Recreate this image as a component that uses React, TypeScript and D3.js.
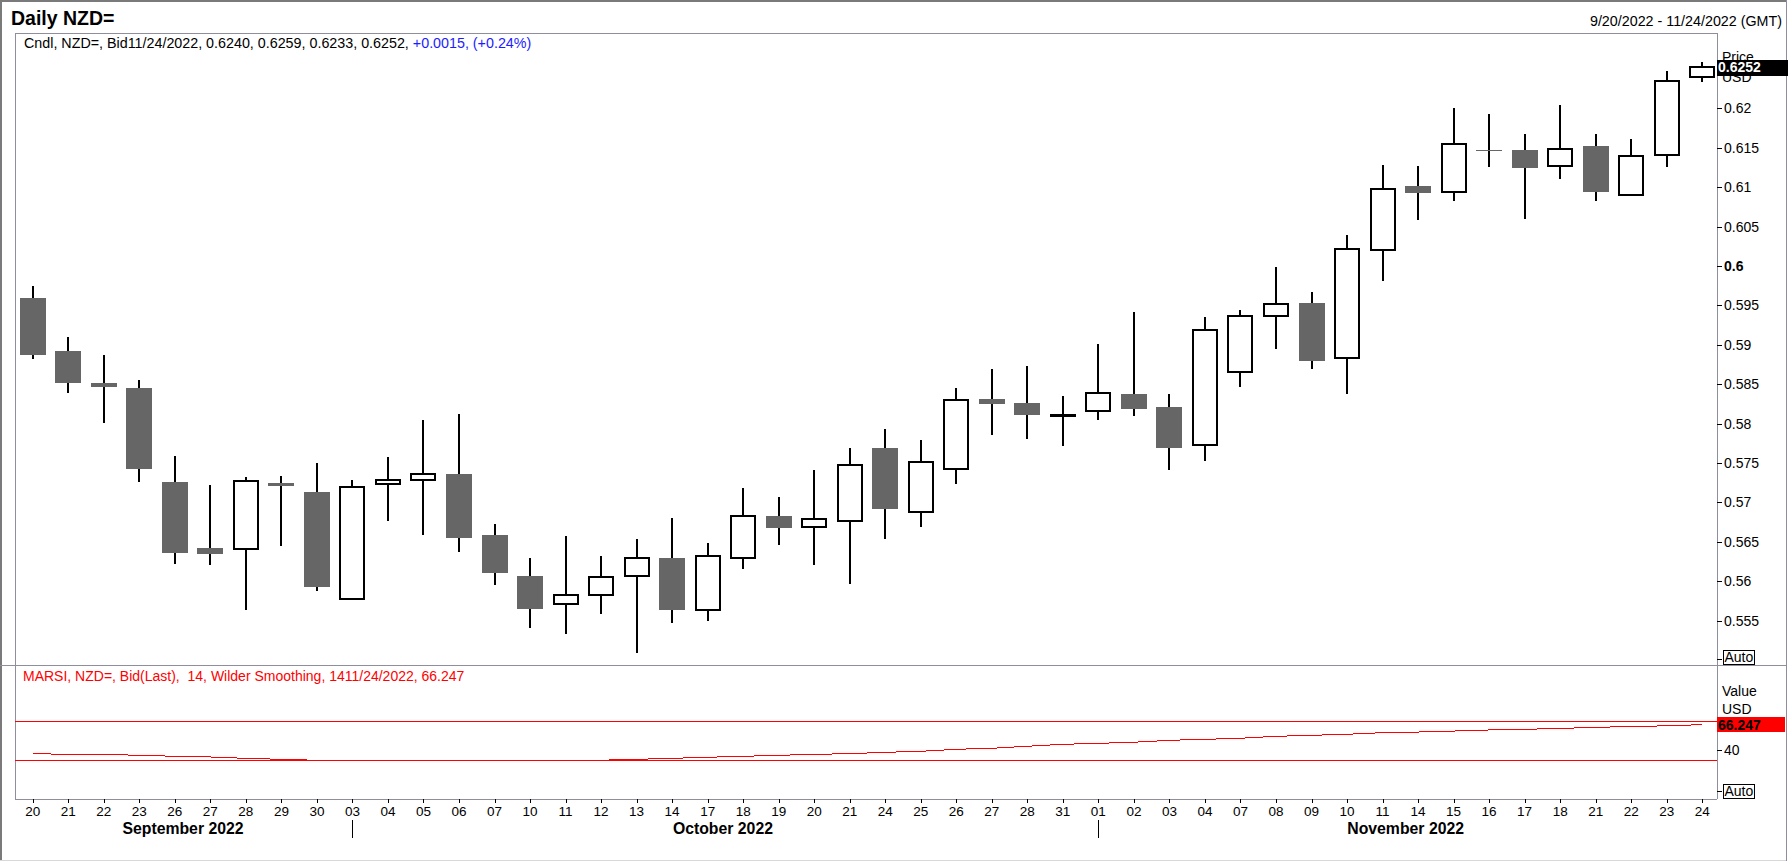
import React from "react";
import * as d3 from "d3";

// ---- data ----
const dates: string[] = [
  "2022-09-20","2022-09-21","2022-09-22","2022-09-23","2022-09-26","2022-09-27","2022-09-28","2022-09-29","2022-09-30",
  "2022-10-03","2022-10-04","2022-10-05","2022-10-06","2022-10-07","2022-10-10","2022-10-11","2022-10-12","2022-10-13",
  "2022-10-14","2022-10-17","2022-10-18","2022-10-19","2022-10-20","2022-10-21","2022-10-24","2022-10-25","2022-10-26",
  "2022-10-27","2022-10-28","2022-10-31",
  "2022-11-01","2022-11-02","2022-11-03","2022-11-04","2022-11-07","2022-11-08","2022-11-09","2022-11-10","2022-11-11",
  "2022-11-14","2022-11-15","2022-11-16","2022-11-17","2022-11-18","2022-11-21","2022-11-22","2022-11-23","2022-11-24",
];

const openV: number[] = [
  0.5959, 0.5892, 0.5851, 0.5845, 0.5726, 0.5642, 0.5641, 0.5725, 0.5713,
  0.5577, 0.5723, 0.5729, 0.5736, 0.5659, 0.5606, 0.5571, 0.5582, 0.5606,
  0.5630, 0.5564, 0.5630, 0.5683, 0.5669, 0.5677, 0.5769, 0.5688, 0.5742,
  0.5831, 0.5826, 0.5810,
  0.5816, 0.5838, 0.5821, 0.5773, 0.5866, 0.5937, 0.5953, 0.5883, 0.6020,
  0.6102, 0.6094, 0.6147, 0.6147, 0.6127, 0.6152, 0.6090, 0.6141, 0.6240,
];
const highV: number[] = [
  0.5975, 0.5910, 0.5887, 0.5855, 0.5759, 0.5722, 0.5732, 0.5734, 0.5750,
  0.5729, 0.5757, 0.5805, 0.5812, 0.5673, 0.5629, 0.5657, 0.5632, 0.5654,
  0.5680, 0.5648, 0.5718, 0.5707, 0.5741, 0.5769, 0.5793, 0.5779, 0.5845,
  0.5869, 0.5873, 0.5835,
  0.5901, 0.5941, 0.5837, 0.5935, 0.5944, 0.5999, 0.5967, 0.6039, 0.6128,
  0.6127, 0.6201, 0.6193, 0.6167, 0.6204, 0.6168, 0.6161, 0.6248, 0.6259,
];
const lowV: number[] = [
  0.5882, 0.5839, 0.5801, 0.5726, 0.5622, 0.5621, 0.5563, 0.5645, 0.5587,
  0.5577, 0.5677, 0.5658, 0.5637, 0.5595, 0.5541, 0.5533, 0.5558, 0.5509,
  0.5547, 0.5549, 0.5616, 0.5646, 0.5620, 0.5596, 0.5654, 0.5669, 0.5723,
  0.5785, 0.5780, 0.5772,
  0.5805, 0.5810, 0.5741, 0.5753, 0.5846, 0.5895, 0.5869, 0.5837, 0.5981,
  0.6059, 0.6082, 0.6126, 0.6060, 0.6111, 0.6083, 0.6090, 0.6126, 0.6233,
];
const closeV: number[] = [
  0.5887, 0.5851, 0.5846, 0.5743, 0.5636, 0.5634, 0.5727, 0.5721, 0.5593,
  0.5720, 0.5729, 0.5736, 0.5655, 0.5610, 0.5565, 0.5582, 0.5605, 0.5630,
  0.5563, 0.5632, 0.5683, 0.5668, 0.5679, 0.5747, 0.5692, 0.5751, 0.5830,
  0.5825, 0.5811, 0.5811,
  0.5839, 0.5818, 0.5769, 0.5919, 0.5937, 0.5952, 0.5880, 0.6022, 0.6098,
  0.6093, 0.6155, 0.6146, 0.6125, 0.6149, 0.6094, 0.6140, 0.6235, 0.6252,
];

const rsiV: number[] = [
  36.5, 35.8, 35.8, 34.8, 33.8, 33.1, 31.7, 30.7, 29.7,
  29.5, 29.4, 29.3, 29.3, 29.4, 29.5, 29.6, 29.8, 30.7,
  31.7, 32.8, 33.8, 34.8, 35.8, 36.5, 37.9, 38.9, 41.0,
  42.0, 44.1, 46.1,
  47.1, 48.2, 50.2, 51.2, 52.3, 54.3, 55.3, 56.4, 58.0,
  58.7, 59.7, 60.8, 61.5, 62.3, 63.6, 64.2, 65.1, 66.247,
];

const priceTicks: number[] = [0.555, 0.56, 0.565, 0.57, 0.575, 0.58, 0.585, 0.59, 0.595, 0.6, 0.605, 0.61, 0.615, 0.62];
const rsiTicks: number[] = [40];
const rsiLevels: number[] = [70, 30];
const monthLabels: string[] = ["September 2022", "October 2022", "November 2022"];
const monthLabelAt: number[] = [4.23, 19.43, 38.65];
const monthStarts: string[] = ["2022-10-03", "2022-11-01"];

const lastPrice = "0.6252";
const lastRsi = "66.247";
const headerBlack = "Cndl, NZD=, Bid11/24/2022, 0.6240, 0.6259, 0.6233, 0.6252, ";
const headerBlue = "+0.0015, (+0.24%)";
const rsiHeader = "MARSI, NZD=, Bid(Last),  14, Wilder Smoothing, 1411/24/2022, 66.247";

const FONT = "'Liberation Sans', Arial, Helvetica, sans-serif";
const FRAME = "#8e8e9c";

export default function App() {
  const W = 1788, H = 862;
  const plotL = 15, plotR = 1717, priceTop = 33, priceBottom = 665, rsiBottom = 799;

  const x = d3.scaleBand<string>().domain(dates).range([15, 1720]).padding(0);
  const bw = x.bandwidth();
  const cx = (d: string) => (x(d) as number) + bw / 2;
  const xIdx = d3.scaleLinear().domain([0, dates.length - 1]).range([cx(dates[0]), cx(dates[dates.length - 1])]);

  const y = d3.scaleLinear().domain([0.55, 0.625]).range([660, 69]);
  const yr = d3.scaleLinear().domain([30, 70]).range([760, 721]);

  const rsiLine = d3.line<number>()
    .x((_, i) => cx(dates[i]))
    .y((v) => yr(v));

  const candles = dates.map((d, i) => {
    const o = openV[i], h = highV[i], l = lowV[i], c = closeV[i];
    const up = c >= o;
    const top = y(Math.max(o, c));
    const bot = y(Math.min(o, c));
    const bh = Math.max(bot - top, 1);
    const xc = Math.round(cx(d));
    return (
      <g key={d}>
        <line x1={xc} x2={xc} y1={y(h)} y2={y(l)} stroke="#000" strokeWidth={2} />
        {up ? (
          <rect x={xc - 12} y={top} width={24} height={bh} fill="#fff" stroke="#000" strokeWidth={2} />
        ) : (
          <rect x={xc - 13} y={top} width={26} height={bh} fill="#666666" />
        )}
      </g>
    );
  });

  return (
    <svg width={W} height={H} style={{ position: "absolute", left: 0, top: 0, background: "#fff" }} fontFamily={FONT}>
      <rect x={0} y={0} width={W} height={H} fill="#fff" />
      {/* outer border */}
      <line x1={0} x2={1787} y1={1} y2={1} stroke="#7a7a7a" strokeWidth={2} />
      <line x1={1} x2={1} y1={0} y2={861} stroke="#7a7a7a" strokeWidth={2} />
      <line x1={0} x2={1787} y1={860.5} y2={860.5} stroke="#d8d8d8" strokeWidth={1} />
      <line x1={1786.5} x2={1786.5} y1={0} y2={861} stroke={FRAME} strokeWidth={1} />

      {/* titles */}
      <text x={11} y={25} fontSize={19.5} fontWeight="bold" fill="#000">Daily NZD=</text>
      <text x={1782} y={26} fontSize={14.3} textAnchor="end" fill="#000">9/20/2022 - 11/24/2022 (GMT)</text>

      {/* frames */}
      <g shapeRendering="crispEdges">
        <line x1={plotL} x2={plotR} y1={priceTop + 0.5} y2={priceTop + 0.5} stroke={FRAME} />
        <line x1={plotL + 0.5} x2={plotL + 0.5} y1={priceTop} y2={rsiBottom} stroke={FRAME} />
        <line x1={plotR + 0.5} x2={plotR + 0.5} y1={priceTop} y2={rsiBottom} stroke={FRAME} />
        <line x1={0} x2={1787} y1={priceBottom + 0.5} y2={priceBottom + 0.5} stroke={FRAME} />
        <line x1={plotL} x2={plotR} y1={rsiBottom + 0.5} y2={rsiBottom + 0.5} stroke={FRAME} />
      </g>

      {/* header */}
      <text x={24} y={48} fontSize={14.3}>
        <tspan fill="#000">{headerBlack}</tspan>
        <tspan fill="#1c1cff">{headerBlue}</tspan>
      </text>

      {/* candles */}
      <g shapeRendering="crispEdges">{candles}</g>

      {/* price axis */}
      <g>
        {priceTicks.map((t) => (
          <g key={t}>
            <line x1={plotR} x2={plotR + 5} y1={Math.round(y(t)) + 0.5} y2={Math.round(y(t)) + 0.5} stroke="#000" shapeRendering="crispEdges" />
            <text x={plotR + 7} y={y(t)} dy="0.36em" fontSize={14} fontWeight={t === 0.6 ? "bold" : "normal"}>{String(t)}</text>
          </g>
        ))}
        <text x={1722} y={62} fontSize={14}>Price</text>
        <text x={1722} y={82} fontSize={14}>USD</text>
        <rect x={plotR} y={60} width={71} height={16} fill="#000" />
        <text x={plotR + 1} y={y(+lastPrice)} dy="0.36em" fontSize={14} fontWeight="bold" fill="#fff">{lastPrice}</text>
        <line x1={plotR} x2={plotR + 5} y1={659.5} y2={659.5} stroke="#000" />
        <rect x={1723.5} y={650.5} width={31} height={14} fill="#fff" stroke="#000" />
        <text x={1724.5} y={662} fontSize={14}>Auto</text>
      </g>

      {/* RSI panel */}
      <text x={23} y={681} fontSize={14} fill="#ff0000" style={{ whiteSpace: "pre" }}>{rsiHeader}</text>
      <g shapeRendering="crispEdges">
        {rsiLevels.map((lv) => (
          <line key={lv} x1={plotL} x2={plotR} y1={Math.round(yr(lv)) + 0.5} y2={Math.round(yr(lv)) + 0.5} stroke="#ff0000" />
        ))}
        <path d={rsiLine(rsiV) as string} fill="none" stroke="#ff0000" strokeWidth={1} />
      </g>
      <g>
        <text x={1722} y={696} fontSize={14}>Value</text>
        <text x={1722} y={714} fontSize={14}>USD</text>
        <rect x={plotR} y={717} width={68} height={15} fill="#ff0000" />
        <text x={plotR + 1} y={yr(+lastRsi)} dy="0.36em" fontSize={14} fontWeight="bold" fill="#000">{lastRsi}</text>
        {rsiTicks.map((t) => (
          <g key={t}>
            <line x1={plotR} x2={plotR + 5} y1={Math.round(yr(t)) + 0.5} y2={Math.round(yr(t)) + 0.5} stroke="#000" shapeRendering="crispEdges" />
            <text x={plotR + 7} y={yr(t)} dy="0.36em" fontSize={14}>{String(t)}</text>
          </g>
        ))}
        <line x1={plotR} x2={plotR + 5} y1={791.5} y2={791.5} stroke="#000" />
        <rect x={1723.5} y={784.5} width={31} height={14} fill="#fff" stroke="#000" />
        <text x={1724.5} y={796} fontSize={14}>Auto</text>
      </g>

      {/* x axis */}
      <g>
        {dates.map((d) => (
          <g key={d}>
            <line x1={Math.round(cx(d)) + 0.5} x2={Math.round(cx(d)) + 0.5} y1={rsiBottom} y2={rsiBottom + 4} stroke="#000" shapeRendering="crispEdges" />
            <text x={cx(d)} y={816} fontSize={13.5} textAnchor="middle">{d.slice(8, 10)}</text>
          </g>
        ))}
        {monthStarts.map((d) => (
          <line key={d} x1={Math.round(cx(d)) + 0.5} x2={Math.round(cx(d)) + 0.5} y1={820} y2={838} stroke="#000" shapeRendering="crispEdges" />
        ))}
        {monthLabels.map((m, i) => (
          <text key={m} x={xIdx(monthLabelAt[i])} y={833.5} fontSize={15.8} fontWeight="bold" textAnchor="middle">{m}</text>
        ))}
      </g>
    </svg>
  );
}
